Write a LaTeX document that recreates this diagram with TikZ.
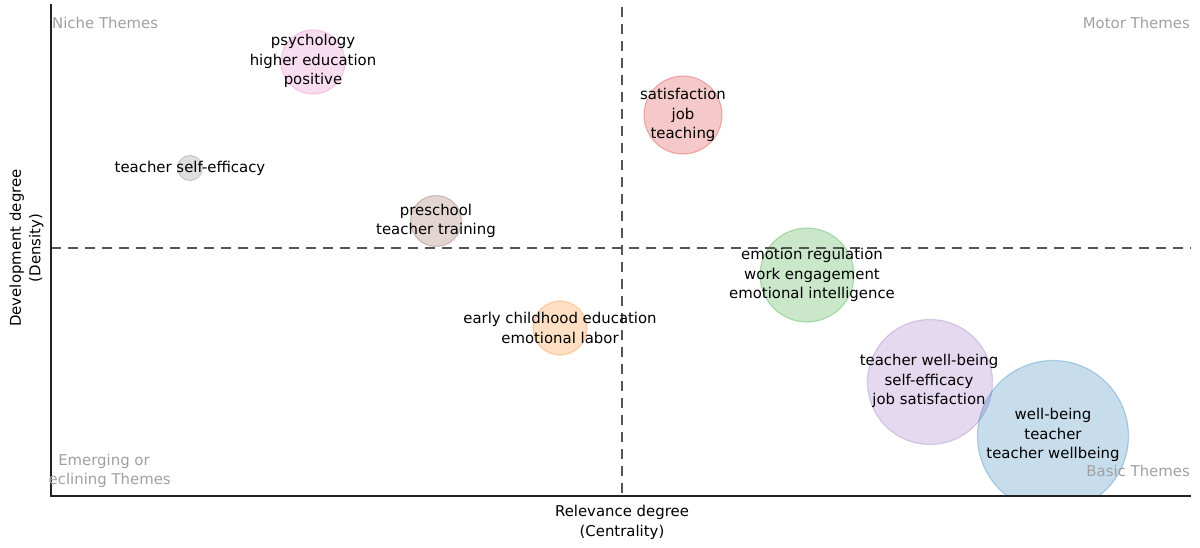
\documentclass[tikz,border=0pt]{standalone}
\usepackage{fontspec}
\setmainfont{DejaVu Sans}
\definecolor{cblue}{HTML}{1F77B4}
\definecolor{corange}{HTML}{FF7F0E}
\definecolor{cgreen}{HTML}{2CA02C}
\definecolor{cred}{HTML}{D62728}
\definecolor{cpurple}{HTML}{9467BD}
\definecolor{cbrown}{HTML}{8C564B}
\definecolor{cpink}{HTML}{E377C2}
\definecolor{cgray}{HTML}{7F7F7F}
\definecolor{quadgray}{HTML}{A0A0A0}
\definecolor{axiscol}{HTML}{222222}
\definecolor{dashcol}{HTML}{555555}
\tikzset{
  bubble/.style={fill=#1, fill opacity=0.25, draw=#1, draw opacity=0.3, line width=1.2pt},
  lbl/.style={font=\fontsize{14.9}{19.5}\selectfont, align=center, text=black, inner sep=0pt},
  qlbl/.style={font=\fontsize{14.9}{19.5}\selectfont, text=quadgray, inner sep=0pt},
  divider/.style={draw=dashcol, line width=2pt, dash pattern=on 10pt off 7pt},
  axisline/.style={draw=axiscol, line width=2pt}
}
\begin{document}
\begin{tikzpicture}[x=1pt,y=-1pt]
\useasboundingbox (0,0) rectangle (1200,547);
\begin{scope}
  \clip (51,5) rectangle (1191,495);
  \path[bubble=cpink]   (313,62)  circle (32);
  \path[bubble=cgray]   (190,168) circle (12.5);
  \path[bubble=cred]    (683,115) circle (39);
  \path[bubble=cbrown]  (436,221) circle (25.5);
  \path[bubble=corange] (560,328) circle (27);
  \path[bubble=cgreen]  (807,275) circle (47);
  \path[bubble=cpurple] (930,382) circle (62.5);
  \path[bubble=cblue]   (1053,436) circle (75.5);
\end{scope}
\coordinate (vt) at (622,7);
\coordinate (vb) at (622,495);
\coordinate (hl) at (51,248);
\coordinate (hr) at (1191,248);
\draw[divider] (vt) -- (vb);
\draw[divider] (hl) -- (hr);
\coordinate (ytop) at (51,4);
\coordinate (origin) at (51,495.5);
\coordinate (xend) at (1191,495.5);
\draw[axisline] (ytop) -- (origin) -- (xend);
\node[lbl] (t1) at (313,61) {psychology\\higher education\\positive};
\node[lbl] (t2) at (190,168) {teacher self-efficacy};
\node[lbl] (t3) at (683,115) {satisfaction\\job\\teaching};
\node[lbl] (t4) at (436,221) {preschool\\teacher training};
\node[lbl] (t5) at (560,328) {early childhood education\\emotional labor};
\node[lbl] (t6) at (812,275) {emotion regulation\\work engagement\\emotional intelligence};
\node[lbl] (t7) at (929,381) {teacher well-being\\self-efficacy\\job satisfaction};
\node[lbl] (t8) at (1053,435) {well-being\\teacher\\teacher wellbeing};
\node[qlbl, anchor=west] (q1) at (52,23) {Niche Themes};
\node[qlbl, anchor=east] (q2) at (1190,23) {Motor Themes};
\node[qlbl, anchor=east] (q4) at (1190,471) {Basic Themes};
\begin{scope}
  \clip (48,440) rectangle (300,495);
  \node[lbl, text=quadgray] (q3) at (104,471) {Emerging or\\Declining Themes};
\end{scope}
\node[lbl] (xl) at (622,522.5) {Relevance degree\\(Centrality)};
\node[lbl, rotate=90] (yl) at (26.5,248) {Development degree\\(Density)};
\end{tikzpicture}
\end{document}
